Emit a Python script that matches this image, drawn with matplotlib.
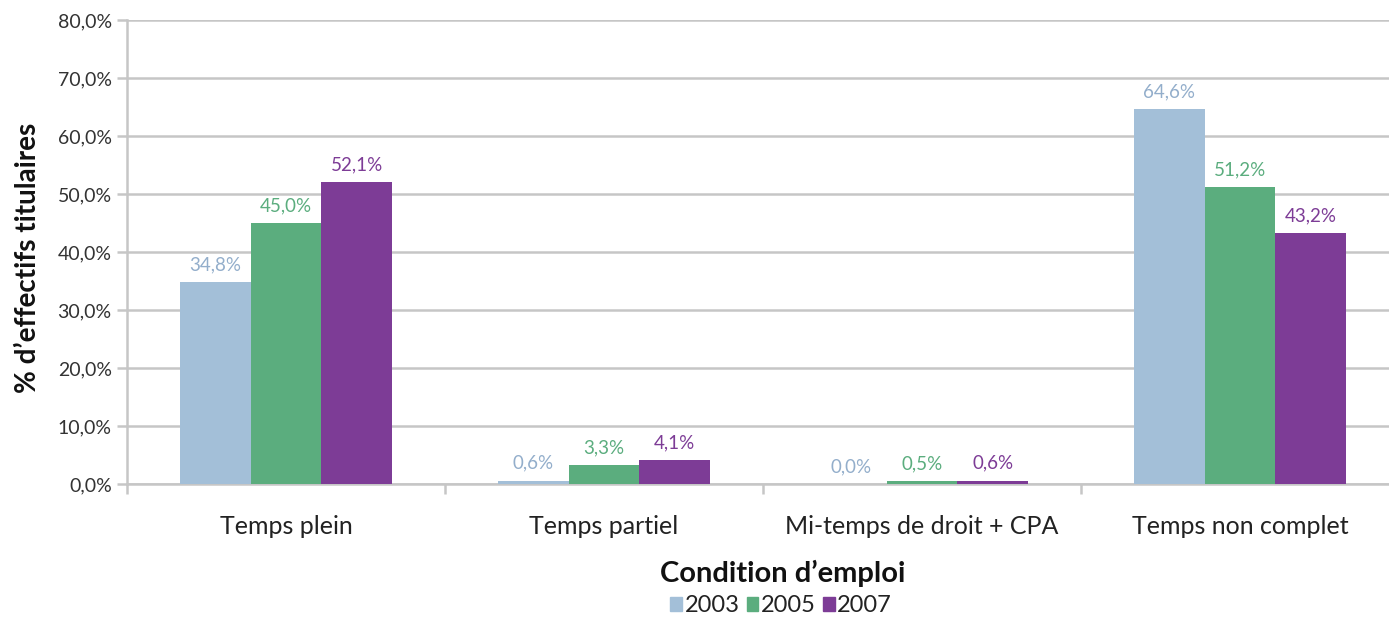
import numpy as np
import matplotlib
matplotlib.use('Agg')
import matplotlib.pyplot as plt
from matplotlib.patches import Patch

# 数据
categories = ['Temps plein', 'Temps partiel', 'Mi-temps de droit + CPA', 'Temps non complet']
years = ['2003', '2005', '2007']
v2003 = [34.8, 0.6, 0.0, 64.6]
v2005 = [45.0, 3.3, 0.5, 51.2]
v2007 = [52.1, 4.1, 0.6, 43.2]
yticks = [0, 10, 20, 30, 40, 50, 60, 70, 80]

plt.rcParams['font.family'] = ['Lato', 'DejaVu Sans']

colors = ['#A3BFD8', '#5BAD7E', '#7D3C96']
label_colors = ['#93AECB', '#5BAD7E', '#7D3C96']
grid_c = '#C6C6C6'

W, H = 1389, 619
fig = plt.figure(figsize=(W / 100, H / 100), dpi=100)
ax = fig.add_axes([127 / W, 1 - 484 / H, 1272 / W, 464 / H])

x = np.arange(len(categories))
bw = 0.222
series = [v2003, v2005, v2007]
for i, vals in enumerate(series):
    pos = x + (i - 1) * bw
    ax.bar(pos, vals, width=bw, color=colors[i], zorder=3)
    for p, v in zip(pos, vals):
        ax.text(p, v + 1.5, f'{v:.1f}%'.replace('.', ','), ha='center', va='bottom',
                color=label_colors[i], fontsize=13.5)

ax.set_xlim(-0.5, len(categories) - 0.5)
ax.set_ylim(0, 80)
ax.set_yticks(yticks)
ax.set_yticklabels([f'{t:.1f}%'.replace('.', ',') for t in yticks], fontsize=14, color='#333333')
ax.yaxis.grid(True, color=grid_c, linewidth=1.8, zorder=0)

# x 轴刻度在类别边界
ax.set_xticks(np.arange(-0.5, len(categories), 1.0))
ax.set_xticklabels([])
ax.set_xticks(x, minor=True)
ax.set_xticklabels(categories, minor=True, fontsize=18, color='#222222')
ax.tick_params(axis='x', which='major', length=7, width=1.8, color=grid_c)
ax.tick_params(axis='x', which='minor', length=0, pad=22)
ax.tick_params(axis='y', length=7, width=1.8, color=grid_c, pad=4)

for s in ['top', 'right']:
    ax.spines[s].set_visible(False)
for s in ['left', 'bottom']:
    ax.spines[s].set_color(grid_c)
    ax.spines[s].set_linewidth(1.8)

fig.text(28 / W, 1 - 258 / H, '% d\u2019effectifs titulaires', rotation=90, ha='center', va='center',
         fontsize=20, fontweight='bold', color='#111111')
fig.text(783 / W, 1 - 573 / H, 'Condition d\u2019emploi', ha='center', va='center',
         fontsize=21, fontweight='bold', color='#111111')

handles = [Patch(color=c, label=y) for c, y in zip(colors, years)]
fig.legend(handles=handles, loc='center', bbox_to_anchor=(781 / W, 1 - 606 / H), ncol=3,
           frameon=False, fontsize=17, handlelength=0.5, handleheight=0.5,
           handletextpad=0.1, columnspacing=0.3, labelcolor='#222222',
           borderpad=0.1)

fig.savefig('out.png', dpi=100)
